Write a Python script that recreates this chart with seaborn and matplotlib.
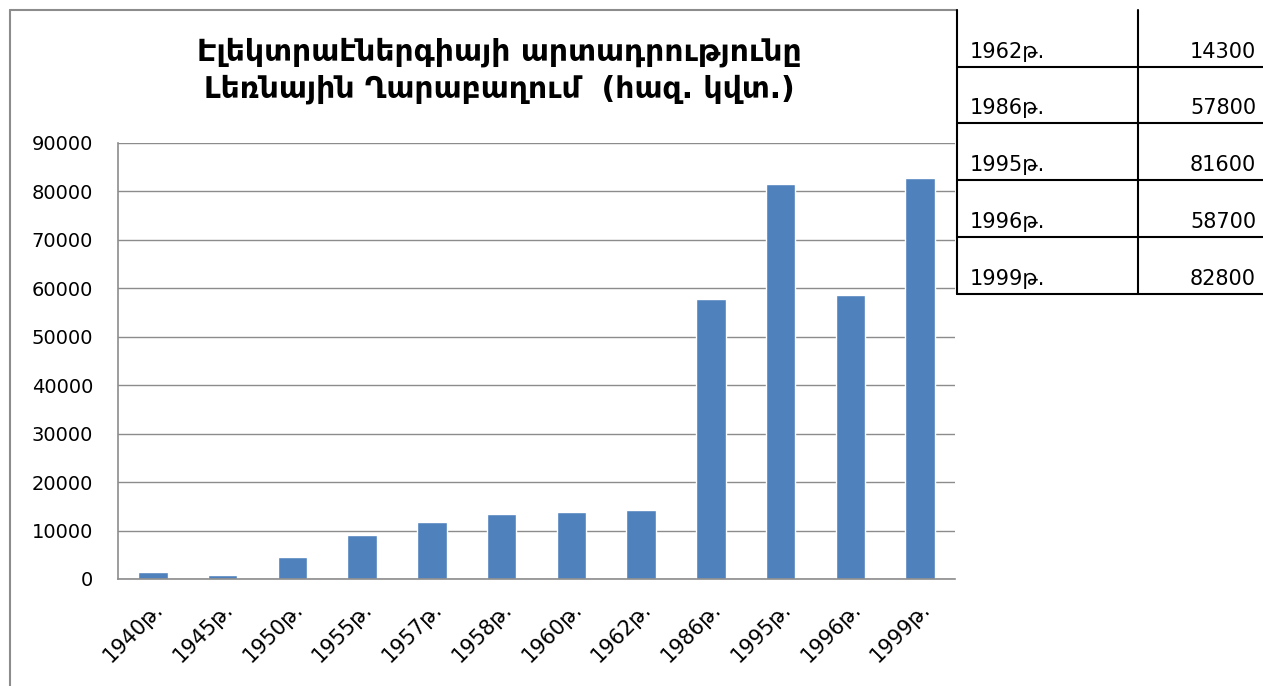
import numpy as np
import pandas as pd
import matplotlib
matplotlib.use("Agg")
import matplotlib.pyplot as plt
import seaborn as sns
from matplotlib.lines import Line2D

years = ["1940", "1945", "1950", "1955", "1957", "1958", "1960", "1962", "1986", "1995", "1996", "1999"]
output = [1450, 750, 4550, 9100, 11750, 13450, 13850, 14300, 57800, 81600, 58700, 82800]
table_years = ["1962", "1986", "1995", "1996", "1999"]
suffix = "թ."
title = "Էլեկտրաէներգիայի արտադրությունը\nԼեռնային Ղարաբաղում  (հազ. կվտ.)"

df = pd.DataFrame({"year": [y + suffix for y in years], "value": output})

sns.set_style("white")
plt.rcParams['font.family'] = ['DejaVu Sans']
plt.rcParams['text.color'] = 'black'
plt.rcParams['xtick.color'] = 'black'
plt.rcParams['ytick.color'] = 'black'

fig = plt.figure(figsize=(12.63, 6.86), dpi=100)
ax = fig.add_axes([118/1263, 107/686, (955-118)/1263, (579-143)/686])
sns.barplot(data=df, x="year", y="value", color="#4F81BD", saturation=1, width=0.42, ax=ax)

ax.set_ylim(0, 90000)
ax.set_yticks(np.arange(0, 90001, 10000))
ax.set_xlim(-0.5, len(years) - 0.5)
ax.yaxis.grid(True, color="#8c8c8c", linewidth=1)
ax.set_axisbelow(True)
ax.set_xlabel("")
ax.set_ylabel("")
for s in ["top", "right"]:
    ax.spines[s].set_visible(False)
for s in ["left", "bottom"]:
    ax.spines[s].set_color("#8c8c8c")
    ax.spines[s].set_linewidth(1.2)
ax.tick_params(axis="y", length=0, labelsize=14, pad=18, labelcolor="black")
ax.tick_params(axis="x", length=0, labelsize=15, pad=14, labelcolor="black")
for lab in ax.get_xticklabels():
    lab.set_rotation(45)
    lab.set_ha("right")
    lab.set_rotation_mode("anchor")

fig.text(0.395, 1 - 71/686, title, ha="center", va="center", fontsize=21.5,
         fontweight="bold", linespacing=1.3, color="black")

# chart frame
fig.add_artist(Line2D([10/1263, 10/1263], [0, 1 - 10/686], color="#8c8c8c", lw=1.5))
fig.add_artist(Line2D([10/1263, 957/1263], [1 - 10/686, 1 - 10/686], color="#8c8c8c", lw=1.5))

# table
tx0, tx1 = 957/1263, 1138/1263
row_bottoms = [67, 123, 180, 237, 294]
fig.add_artist(Line2D([tx0, tx0], [1 - 10/686, 1 - 294/686], color="black", lw=1.5))
fig.add_artist(Line2D([tx1, tx1], [1 - 10/686, 1 - 294/686], color="black", lw=1.5))
for yb in row_bottoms:
    fig.add_artist(Line2D([tx0, 1], [1 - yb/686, 1 - yb/686], color="black", lw=1.5))
for ty, yb in zip(table_years, row_bottoms):
    v = output[years.index(ty)]
    fig.text(970/1263, 1 - (yb - 15)/686, ty + suffix, ha="left", va="center", fontsize=15)
    fig.text(1256/1263, 1 - (yb - 15)/686, str(v), ha="right", va="center", fontsize=15)

fig.savefig("out.png", dpi=100)
